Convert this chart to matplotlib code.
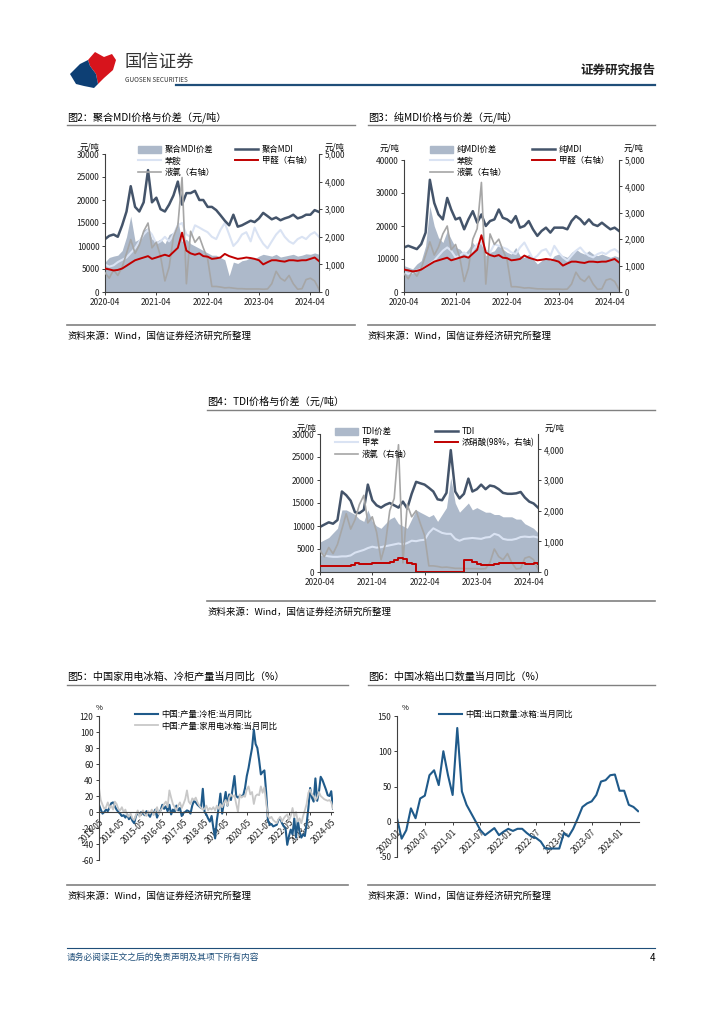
import numpy as np
import pandas as pd
import matplotlib
matplotlib.use('Agg')
import matplotlib.pyplot as plt
import matplotlib.dates as mdates
import matplotlib.ticker as mticker
from matplotlib.lines import Line2D
from matplotlib.patches import Patch, Polygon
from matplotlib.legend import Legend

plt.rcParams['font.family'] = ['Noto Sans CJK SC', 'DejaVu Sans']
plt.rcParams['axes.unicode_minus'] = False

# ---------------- data (monthly, 2020-04 .. 2024-06) ----------------
months = pd.date_range('2020-04-01', periods=51, freq='MS')

pmdi = [11500, 12200, 12500, 12000, 14500, 17500, 23000, 18500, 17500, 19500, 26500, 19500,
        20500, 18000, 17500, 19000, 21000, 24000, 19000, 21500, 21500, 22000, 20000, 20000,
        18500, 18500, 17800, 16700, 15500, 14500, 16800, 14200, 14500, 15000, 15500, 15200,
        16000, 17200, 16500, 15800, 16200, 15600, 16000, 16300, 16800, 16000, 16300, 16800,
        16800, 17800, 17400]
pmdi_spread = [6500, 7500, 7800, 8000, 9000, 12000, 16500, 11000, 11500, 13500, 14000, 11500,
               11000, 11500, 10500, 12500, 13000, 15500, 11000, 11500, 10500, 10000, 9500, 9000,
               8500, 8000, 8000, 7500, 7000, 3500, 6500, 6200, 6800, 7000, 7500, 7200,
               7800, 8200, 8000, 7800, 8200, 7600, 7800, 8000, 8200, 7800, 8000, 8300,
               8200, 8500, 8200]
mmdi = [13500, 14000, 13500, 13000, 14500, 18000, 34000, 27000, 23500, 22000, 28500, 25000,
        22000, 22500, 19000, 22000, 24500, 21000, 23500, 20000, 21500, 22000, 25000, 22500,
        22000, 21000, 23000, 19500, 20000, 21500, 19000, 17000, 18500, 19500, 18000, 19500,
        19500, 19500, 19000, 21500, 23000, 22000, 20500, 22000, 20500, 20000, 21000, 20000,
        19000, 19500, 18500]
mmdi_spread = [8000, 7500, 7000, 8500, 9500, 14000, 26000, 20000, 16500, 15000, 18500, 16000,
               13500, 13000, 11500, 13000, 15000, 13000, 15500, 11000, 12000, 12500, 14500, 13000,
               12000, 11500, 13500, 11000, 10500, 11500, 10000, 8500, 9500, 10500, 9500, 11000,
               11500, 11000, 10500, 12000, 13000, 12000, 11500, 12500, 11500, 11000, 11500, 11000,
               10500, 11000, 10500]
aniline = [6000, 5500, 5800, 6500, 7000, 7500, 8500, 9500, 11000, 12500, 13500, 12500,
           10500, 11000, 12000, 11000, 12500, 14500, 15000, 12500, 12000, 14500, 14000, 13500,
           13000, 12000, 11500, 13500, 15000, 12500, 10000, 11000, 12500, 13000, 11000, 14000,
           12000, 10500, 9500, 11000, 12500, 13500, 12000, 11000, 10500, 11500, 12000, 11500,
           12500, 13000, 12000]
formaldehyde = [850, 820, 780, 800, 850, 950, 1050, 1150, 1200, 1250, 1300, 1200,
                1250, 1300, 1350, 1300, 1450, 1600, 2150, 1500, 1400, 1350, 1400, 1300,
                1280, 1200, 1220, 1250, 1380, 1300, 1250, 1200, 1220, 1250, 1230, 1200,
                1150, 1000, 1080, 1150, 1150, 1120, 1100, 1150, 1150, 1130, 1150, 1150,
                1200, 1250, 1120]
chlorine = [700, 500, 800, 600, 900, 1400, 1900, 1400, 1700, 2200, 2500, 1600,
            1800, 1300, 400, 900, 2000, 2400, 4150, 300, 2200, 1800, 2000, 1600,
            1200, 200, 200, 180, 150, 160, 140, 120, 120, 110, 110, 110,
            110, 100, 110, 300, 750, 500, 400, 600, 300, 100, 120, 450,
            500, 400, 100]
tdi = [9800, 10300, 10800, 10500, 11300, 17500, 16700, 15500, 13000, 12800, 13500, 19000,
       15600, 14500, 14000, 14600, 15000, 14500, 14000, 15300, 13800, 17000, 19600, 19300,
       19000, 18300, 17500, 15800, 15600, 17200, 26500, 17500, 16000, 17000, 20300, 17500,
       18000, 19000, 18000, 18800, 18600, 18000, 17200, 17000, 17000, 17100, 17400, 16200,
       15300, 14900, 14000]
tdi_spread = [6500, 7000, 7500, 8500, 9500, 13500, 13500, 13000, 12500, 11500, 11000, 13500,
              11000, 10000, 9500, 10500, 11500, 12000, 10500, 10000, 9500, 11500, 13500, 13000,
              12500, 12000, 12500, 11000, 12500, 14000, 20500, 15000, 13000, 14000, 15000, 13500,
              14000, 13500, 13000, 13000, 12500, 12500, 12000, 12000, 12000, 11500, 11500, 10500,
              10000, 9500, 8500]
toluene = [3800, 3600, 3400, 3300, 3300, 3400, 3400, 3600, 4200, 4500, 4800, 5200,
           5500, 5300, 5400, 5600, 5800, 6000, 6200, 6000, 6300, 6800, 6700, 6900,
           7000, 8500, 9500, 9000, 8500, 8300, 8300, 7200, 6800, 7200, 7300, 7400,
           7300, 7200, 7500, 7600, 8300, 8000, 7200, 7000, 7000, 7200, 7600, 7700,
           7600, 7700, 7500]
nitric = [180, 180, 180, 190, 200, 200, 200, 230, 280, 270, 260, 260,
          280, 300, 300, 290, 340, 380, 450, 420, 290, 260, 0, 0,
          0, 0, 0, 0, 0, 0, 0, 0, 0, 380, 380, 320,
          260, 240, 220, 220, 260, 280, 280, 300, 300, 290, 280, 270,
          260, 280, 270]

# monthly 2013-05 .. 2024-06
freezer_yoy = [9, 3, -2, 0, 3, 1, 6, 11, 12, 7, 3, 0,
               -2, -5, -4, -7, -3, -9, -6, -11, -14, -5, -1, -4,
               0, -2, -4, 1, -3, -6, 0, -2, 3, -7, -1, 2,
               9, 4, 7, 1, 9, -3, 3, 0, 8, 2, 5, -5,
               -1, 0, 2, 1, -2, 8, 14, 12, 9, 7, 5, 29,
               0, -3, -8, -12, -5, -20, -33, -10, 5, 23, -2, 12,
               25, 8, 22, 15, 30, 45, 20, 18, 20, 20, 21, 30,
               45, 55, 68, 80, 103, 85, 80, 65, 47, 50, 52, 25,
               -10, -16, -15, -18, -17, -16, -10, -8, -14, -18, -20, -41,
               -30, -22, -28, -8, -32, -10, -25, -32, -28, -30, -15, 5,
               30, 18, 13, 42, 14, 25, 44, 40, 34, 28, 21, 20,
               26, 4]
fridge_yoy = [30, 15, 9, 4, 6, 12, 5, 8, 3, 13, 10, 4,
              2, 6, 0, 3, -4, -6, -2, -8, -10, -4, 2, -6,
              -2, 2, -3, -5, 1, -2, 3, -4, 1, 6, -3, 2,
              5, 10, 13, 6, 27, 18, 10, 6, 2, 8, 12, 5,
              10, 16, 27, 13, 10, 17, 15, 18, 12, 8, 5, 3,
              4, 8, 2, 5, 3, 6, 2, 8, 4, 10, 6, 11,
              15, 8, 18, 22, 19, 21, 10, 0, 22, 18, 20, 19,
              28, 32, 22, 25, 10, 20, 22, 21, 32, 24, 31, 12,
              -5, -8, -6, -10, -12, -14, -9, -6, -12, -8, -5, -3,
              -10, -5, 5, -6, 0, -12, -8, -14, -5, 2, 10, 24,
              28, 22, 20, 15, 18, 25, 20, 18, 16, 15, 14, 15,
              12, 4]
prod_ticks = ['2013-05', '2014-05', '2015-05', '2016-05', '2017-05', '2018-05',
              '2019-05', '2020-05', '2021-05', '2022-05', '2023-05', '2024-05']

# monthly 2020-01 .. 2024-05
export_yoy = [5, -24, -12, 19, 5, 33, 37, 66, 73, 52, 100, 66,
              38, 133, 43, 24, 12, 0, -12, -19, -14, -9, -19, -14,
              -10, -13, -10, -10, -16, -21, -23, -28, -38, -38, -38, -38,
              -16, -21, -10, 5, 21, 26, 29, 38, 57, 59, 66, 67,
              44, 44, 24, 21, 15]
export_ticks = ['2020-01', '2020-07', '2021-01', '2021-07', '2022-01', '2022-07',
                '2023-01', '2023-07', '2024-01']

NAVY = '#44546a'
SPREAD = '#adb9ca'
LIGHT = '#dae3f3'
RED = '#c00000'
GRAY = '#a6a6a6'
BLUE = '#1f5a8a'
LGRAY = '#c8c8c8'

W, H = 724, 1024
fig = plt.figure(figsize=(W / 100, H / 100), dpi=100)


def rect(x0, y0, x1, y1):
    return [x0 / W, 1 - y1 / H, (x1 - x0) / W, (y1 - y0) / H]


def ftxt(x, y, s, **kw):
    kw.setdefault('va', 'center')
    fig.text(x / W, 1 - y / H, s, **kw)


def hline(x0, x1, y, color='#808080', lw=1.0):
    fig.add_artist(Line2D([x0 / W, x1 / W], [1 - y / H, 1 - y / H],
                          transform=fig.transFigure, color=color, lw=lw))


def legend_at(ax, handles, labels, x, y):
    lg = Legend(ax, handles, labels, loc='upper left', bbox_to_anchor=(x / W, 1 - y / H),
                bbox_transform=fig.transFigure, frameon=False, fontsize=6,
                handlelength=2.8, handletextpad=0.4, labelspacing=0.3,
                borderpad=0, borderaxespad=0, handleheight=0.9)
    ax.add_artist(lg)


def style_axis(ax, side):
    for s in ['top', 'right', 'left', 'bottom']:
        ax.spines[s].set_visible(False)
    for s in side:
        ax.spines[s].set_visible(True)
        ax.spines[s].set_color('#404040')
        ax.spines[s].set_linewidth(0.8)
    ax.tick_params(labelsize=6, length=2.5, width=0.6, colors='#202020', pad=1.5)


def price_chart(box, spread, main, light, red, gray, lmax, lstep, rmax, red_steps=False):
    ax = fig.add_axes(rect(*box))
    ax.fill_between(months, 0, spread, color=SPREAD, lw=0)
    ax.plot(months, light, color=LIGHT, lw=1.5)
    ax.plot(months, main, color=NAVY, lw=1.8)
    ax.set_ylim(0, lmax)
    ax.set_yticks(np.arange(0, lmax + 1, lstep))
    ax.set_xlim(months[0], months[-1])
    ax.xaxis.set_major_locator(mdates.MonthLocator(bymonth=4))
    ax.xaxis.set_major_formatter(mdates.DateFormatter('%Y-%m'))
    style_axis(ax, ['left', 'bottom'])
    ax2 = ax.twinx()
    ax2.plot(months, gray, color=GRAY, lw=1.2)
    ax2.plot(months, red, color=RED, lw=1.4, drawstyle='steps-post' if red_steps else 'default')
    ax2.set_ylim(0, rmax)
    ax2.set_yticks(np.arange(0, rmax + 1, 1000))
    ax2.yaxis.set_major_formatter(mticker.FuncFormatter(lambda v, p: f'{v:,.0f}'))
    style_axis(ax2, ['right'])
    ax2.set_xlim(months[0], months[-1])
    return ax, ax2


# ---------------- header ----------------
logo = fig.add_axes(rect(66, 48, 120, 90))
logo.set_xlim(66, 120)
logo.set_ylim(90, 48)
logo.axis('off')
logo.add_patch(Polygon([(88, 60), (95, 52), (104, 57), (112, 54), (116, 60), (113, 70),
                        (104, 78), (98, 84), (96, 74), (90, 66)], closed=True, color='#d7141c', lw=0))
logo.add_patch(Polygon([(70, 74), (80, 64), (88, 60), (90, 66), (96, 74), (98, 84),
                        (94, 88), (84, 86), (76, 84)], closed=True, color='#0d3f74', lw=0))
ftxt(125, 63, '国信证券', fontsize=12.5, color='#333333')
ftxt(125, 80, 'GUOSEN SECURITIES', fontsize=4.6, color='#333333')
ftxt(655, 70, '证券研究报告', fontsize=9, fontweight='bold', ha='right', color='#222222')
hline(176, 655, 84.5, color='#1f4e79', lw=1.6)

# ---------------- figure 2 ----------------
ftxt(67, 117, '图2：聚合MDI价格与价差（元/吨）', fontsize=7.3)
hline(67, 355, 125)
ax, ax2 = price_chart((105, 154, 319, 292), pmdi_spread, pmdi, aniline, formaldehyde, chlorine,
                      30000, 5000, 5000)
legend_at(ax2, [Patch(color=SPREAD), Line2D([], [], color=LIGHT, lw=1.5), Line2D([], [], color=GRAY, lw=1.2)],
          ['聚合MDI价差', '苯胺', '液氯（右轴）'], 138, 145)
legend_at(ax2, [Line2D([], [], color=NAVY, lw=1.8), Line2D([], [], color=RED, lw=1.4)],
          ['聚合MDI', '甲醛（右轴）'], 235, 145)
ftxt(80, 147, '元/吨', fontsize=6)
ftxt(325, 147, '元/吨', fontsize=6)
hline(67, 355, 325, color='#808080', lw=1.2)
ftxt(67, 336, '资料来源：Wind，国信证券经济研究所整理', fontsize=6.8)

# ---------------- figure 3 ----------------
ftxt(368, 117, '图3：纯MDI价格与价差（元/吨）', fontsize=7.3)
hline(368, 655, 125)
ax, ax2 = price_chart((404, 160, 619, 292), mmdi_spread, mmdi, aniline, formaldehyde, chlorine,
                      40000, 10000, 5000)
legend_at(ax2, [Patch(color=SPREAD), Line2D([], [], color=LIGHT, lw=1.5), Line2D([], [], color=GRAY, lw=1.2)],
          ['纯MDI价差', '苯胺', '液氯（右轴）'], 430, 145)
legend_at(ax2, [Line2D([], [], color=NAVY, lw=1.8), Line2D([], [], color=RED, lw=1.4)],
          ['纯MDI', '甲醛（右轴）'], 532, 145)
ftxt(380, 148, '元/吨', fontsize=6)
ftxt(624, 148, '元/吨', fontsize=6)
hline(368, 655, 325, color='#808080', lw=1.2)
ftxt(368, 336, '资料来源：Wind，国信证券经济研究所整理', fontsize=6.8)

# ---------------- figure 4 ----------------
ftxt(207, 401, '图4：TDI价格与价差（元/吨）', fontsize=7.3)
hline(207, 655, 410)
ax, ax2 = price_chart((320, 434, 538, 572), tdi_spread, tdi, toluene, nitric, chlorine,
                      30000, 5000, 4500, red_steps=True)
legend_at(ax2, [Patch(color=SPREAD), Line2D([], [], color=LIGHT, lw=1.5), Line2D([], [], color=GRAY, lw=1.2)],
          ['TDI价差', '甲苯', '液氯（右轴）'], 335, 427)
legend_at(ax2, [Line2D([], [], color=NAVY, lw=1.8), Line2D([], [], color=RED, lw=1.4)],
          ['TDI', '浓硝酸(98%，右轴)'], 435, 427)
ftxt(297, 428, '元/吨', fontsize=6)
ftxt(545, 428, '元/吨', fontsize=6)
hline(207, 655, 601, color='#808080', lw=1.2)
ftxt(207, 612, '资料来源：Wind，国信证券经济研究所整理', fontsize=6.8)


# ---------------- yoy charts ----------------
def yoy_axis(box, ymin, ymax, ystep, n, ticks, tick_step):
    ax = fig.add_axes(rect(*box))
    ax.set_ylim(ymin, ymax)
    ax.set_yticks(np.arange(ymin, ymax + 1, ystep))
    ax.set_xlim(0, n)
    style_axis(ax, ['left', 'bottom'])
    ax.spines['bottom'].set_position(('data', 0))
    ax.set_xticks(np.arange(0, len(ticks) * tick_step, tick_step))
    ax.set_xticklabels(ticks)
    for lbl in ax.get_xticklabels():
        lbl.set_rotation(45)
        lbl.set_ha('right')
        lbl.set_va('top')
        lbl.set_rotation_mode('anchor')
    return ax


ftxt(67, 677, '图5：中国家用电冰箱、冷柜产量当月同比（%）', fontsize=7.3)
hline(67, 348, 685)
ax = yoy_axis((99, 716, 333, 860), -60, 120, 20, len(freezer_yoy) - 1, prod_ticks, 12)
k = np.arange(len(freezer_yoy))
ax.plot(k, freezer_yoy, color=BLUE, lw=1.5)
ax.plot(k, fridge_yoy, color=LGRAY, lw=1.3)
legend_at(ax, [Line2D([], [], color=BLUE, lw=1.5), Line2D([], [], color=LGRAY, lw=1.3)],
          ['中国:产量:冷柜:当月同比', '中国:产量:家用电冰箱:当月同比'], 135, 710)
ftxt(96, 708, '%', fontsize=5.5)
hline(67, 348, 885, color='#808080', lw=1.2)
ftxt(67, 896, '资料来源：Wind，国信证券经济研究所整理', fontsize=6.8)

ftxt(368, 677, '图6：中国冰箱出口数量当月同比（%）', fontsize=7.3)
hline(368, 655, 685)
ax = yoy_axis((397, 716, 639, 857), -50, 150, 50, len(export_yoy) - 0.8, export_ticks, 6)
ax.plot(np.arange(len(export_yoy)), export_yoy, color=BLUE, lw=1.5)
legend_at(ax, [Line2D([], [], color=BLUE, lw=1.5)], ['中国:出口数量:冰箱:当月同比'], 439, 710)
ftxt(402, 708, '%', fontsize=5.5)
hline(368, 655, 885, color='#808080', lw=1.2)
ftxt(368, 896, '资料来源：Wind，国信证券经济研究所整理', fontsize=6.8)

# ---------------- footer ----------------
hline(67, 655, 948, color='#1f4e79', lw=0.8)
ftxt(67, 957, '请务必阅读正文之后的免责声明及其项下所有内容', fontsize=6.3, color='#1f4e79', style='italic')
ftxt(655, 958, '4', fontsize=7, ha='right')

fig.savefig('out.png', dpi=100)
